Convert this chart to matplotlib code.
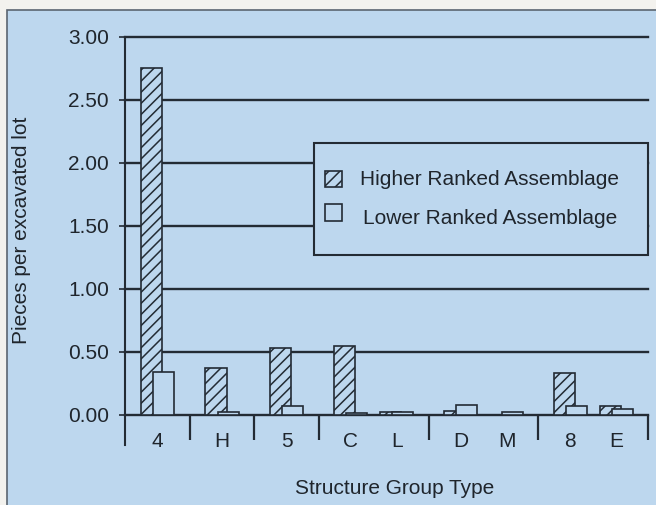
import numpy as np
import matplotlib
matplotlib.use('Agg')
import matplotlib.pyplot as plt
from matplotlib.patches import Rectangle

# data
groups = [['4'], ['H'], ['5'], ['C', 'L'], ['D', 'M'], ['8', 'E']]
higher = [2.75, 0.37, 0.53, 0.55, 0.025, 0.03, 0.0, 0.33, 0.07]
lower = [0.34, 0.02, 0.07, 0.015, 0.025, 0.075, 0.02, 0.07, 0.045]
yticks = [0.0, 0.5, 1.0, 1.5, 2.0, 2.5, 3.0]
legend_labels = ['Higher Ranked Assemblage', 'Lower Ranked Assemblage']

bg = '#bdd7ee'
ink = '#232b34'
txt = '#1f252c'
plt.rcParams['font.family'] = ['Liberation Sans', 'DejaVu Sans']
plt.rcParams['hatch.linewidth'] = 1.1

# slot widths: single categories get a bit more room than pairs
single_w = 1.18
shift = 0.08
x = []
bounds = [0.0]
pos = 0.0
for g in groups:
    if len(g) == 1:
        x.append(pos + single_w / 2)
        pos += single_w
    else:
        x.append(pos + 0.5 + shift)
        x.append(pos + 1.5 - shift)
        pos += 2.0
    bounds.append(pos)
x = np.array(x)
cats = [c for g in groups for c in g]

fig = plt.figure(figsize=(6.56, 5.05), dpi=100, facecolor='#f3f2ee')
fig.patches.append(Rectangle((7 / 656, -0.1), 1.2, 1.1 - 10 / 505, transform=fig.transFigure,
                             facecolor=bg, edgecolor='#5b6570', lw=1.2, zorder=-10))
ax = fig.add_axes([125 / 656, 1 - 445 / 505, 523 / 656, 408 / 505])
ax.set_facecolor('none')

bw = 0.385
off = 0.11
ax.bar(x - off, higher, width=bw, facecolor=bg, edgecolor=ink, hatch='///', lw=1.2, zorder=3)
ax.bar(x + off, lower, width=bw, facecolor=bg, edgecolor=ink, lw=1.2, zorder=4)

ax.set_xlim(0, bounds[-1])
ax.set_ylim(-0.24, 3.0)
ax.set_yticks(yticks)
ax.set_yticklabels(['%.2f' % v for v in yticks])
ax.set_xticks([])
ax.tick_params(axis='y', length=4.5, width=1.2, color=ink, pad=7, labelsize=15, labelcolor=txt)
ax.grid(axis='y', color=ink, lw=1.7)
for gl in ax.get_ygridlines():
    gl.set_clip_on(False)
ax.set_axisbelow(True)
for s in ['top', 'right', 'bottom']:
    ax.spines[s].set_visible(False)
ax.spines['left'].set_color(ink)
ax.spines['left'].set_linewidth(1.5)

# category separators below the axis
ax.vlines(bounds[1:], -0.2, 0, color=ink, lw=1.6, clip_on=False)
for xi, c in zip(x, cats):
    ax.text(xi, -0.215, c, ha='center', va='center', fontsize=15, color=txt, clip_on=False)

ax.set_ylabel('Pieces per excavated lot', fontsize=15, color=txt)
ax.yaxis.set_label_coords(-0.18, 0.527)
ax.set_xlabel('Structure Group Type', fontsize=15, color=txt, va='top')
ax.xaxis.set_label_coords(0.516, -0.083)

# legend box
ax.add_patch(Rectangle((0.361, 0.466), 0.639, 0.274, transform=ax.transAxes,
                       facecolor=bg, edgecolor=ink, lw=1.5, zorder=5, clip_on=False))
ax.add_patch(Rectangle((0.382, 0.632), 0.0325, 0.039, transform=ax.transAxes,
                       facecolor=bg, edgecolor=ink, hatch='///', lw=1.2, zorder=6))
ax.add_patch(Rectangle((0.382, 0.549), 0.0325, 0.042, transform=ax.transAxes,
                       facecolor=bg, edgecolor=ink, lw=1.2, zorder=6))
ax.text(0.449, 0.650, legend_labels[0], transform=ax.transAxes, ha='left', va='center',
        fontsize=15, color=txt, zorder=7)
ax.text(0.455, 0.556, legend_labels[1], transform=ax.transAxes, ha='left', va='center',
        fontsize=15, color=txt, zorder=7)

plt.savefig('out.png', dpi=100, facecolor=fig.get_facecolor())
